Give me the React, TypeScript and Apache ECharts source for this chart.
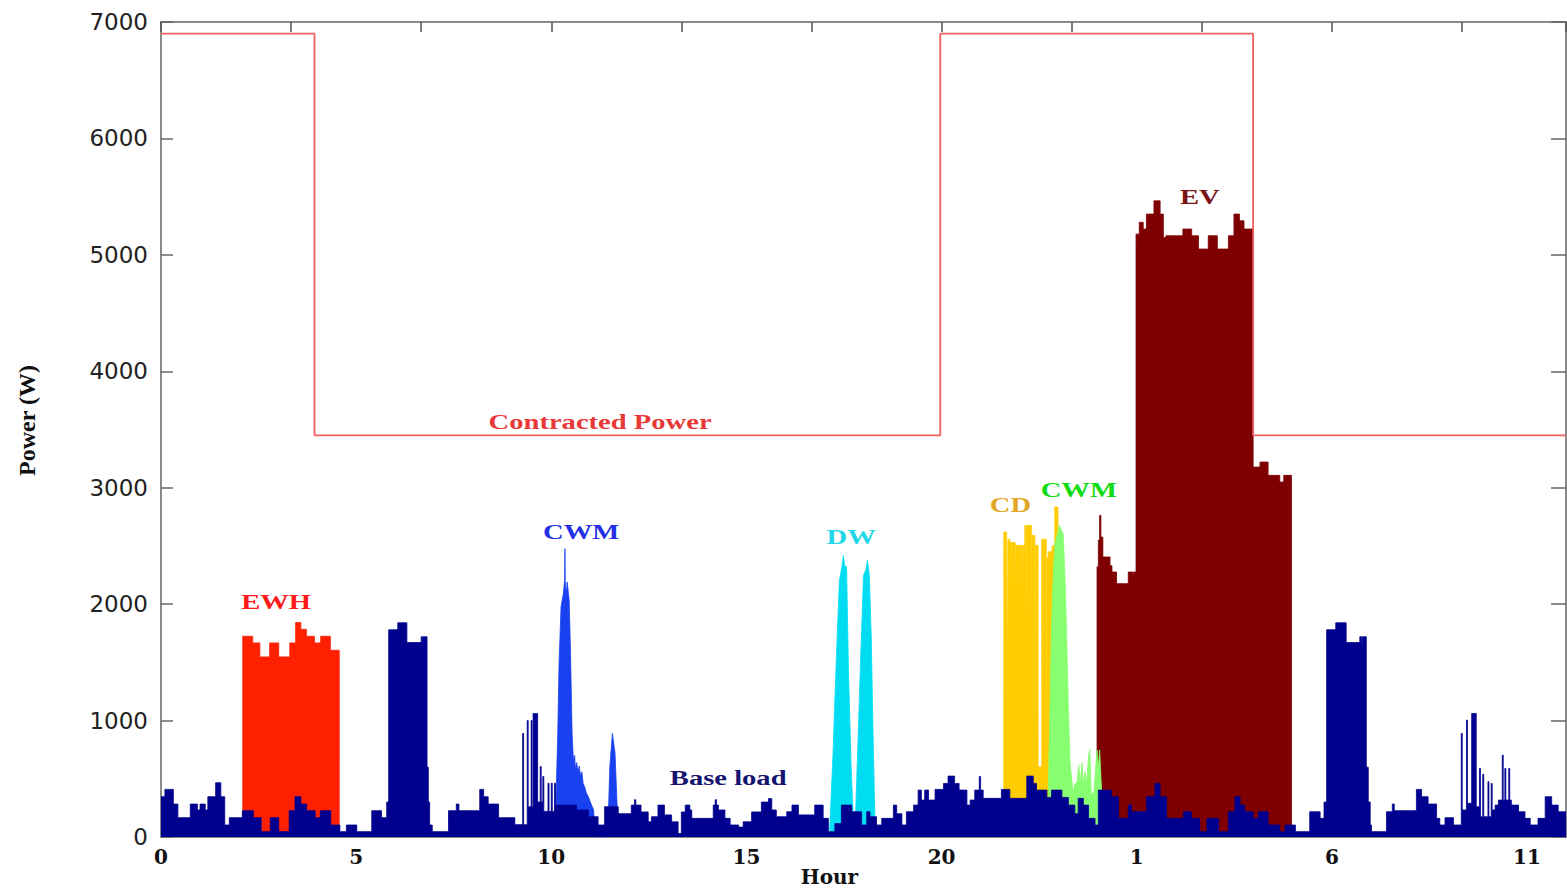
import React, { useEffect, useRef } from 'react';
import * as echarts from 'echarts';

// x values are minutes from midnight of day 1 (0 .. 2160 = 36 h), y values are watts
const hourTickMinutes = [0, 300, 600, 900, 1200, 1500, 1800, 2100];

const contractedPower: [number, number][] = [
  [0, 6900], [236, 3450], [1198, 6900], [1679, 3450], [2160, 3450],
];

const baseLoad: [number, number][] = [
  [0, 346], [6, 409], [19, 283], [26, 166], [45, 283], [56, 232], [60, 283], [68, 232], [72, 346],
  [84, 466], [92, 346], [98, 103], [105, 166], [125, 226], [142, 166], [154, 46], [168, 166],
  [181, 46], [197, 226], [206, 346], [215, 283], [224, 226], [237, 166], [245, 226], [261, 103],
  [275, 46], [285, 103], [301, 46], [324, 226], [339, 166], [347, 300],
  [350, 1780], [364, 1840], [378, 1670], [400, 1720], [402, 1600], [403, 1720], [409, 600],
  [411, 300], [413, 103], [417, 46], [442, 226], [454, 283], [458, 226], [490, 409], [496, 346],
  [503, 283], [519, 166], [544, 106], [556, 890], [557.5, 106], [563, 1000], [564.5, 260],
  [569, 1000], [570.5, 260], [572, 1060], [579, 300], [583, 605], [584.5, 300], [587, 520],
  [588.5, 220], [595, 462], [596.5, 220], [600, 462], [601.5, 220], [605, 462], [606.5, 260],
  [608, 274], [639, 232], [657, 174], [672, 103], [682, 260], [703, 200], [723, 274], [728, 320],
  [730, 274], [738, 215], [749, 130], [754, 174], [764, 274], [774, 190], [785, 130], [795, 30],
  [800, 215], [806, 274], [813, 232], [816, 160], [849, 274], [852, 320], [854, 274], [857, 232],
  [867, 160], [875, 103], [888, 85], [895, 130], [908, 215], [923, 300], [934, 330], [939, 232],
  [946, 174], [962, 217], [970, 274], [980, 190], [1005, 274], [1018, 160], [1026, 46], [1036, 115],
  [1046, 274], [1062, 217], [1077, 103], [1085, 217], [1090, 174], [1100, 103], [1108, 160],
  [1126, 274], [1131, 200], [1139, 103], [1146, 217], [1157, 274], [1164, 403], [1169, 317],
  [1174, 403], [1180, 317], [1190, 409], [1203, 460], [1210, 523], [1220, 460], [1227, 403],
  [1239, 274], [1244, 317], [1251, 403], [1258, 520], [1260, 403], [1264, 332], [1292, 409],
  [1305, 332], [1331, 523], [1341, 460], [1346, 403], [1362, 340], [1369, 403], [1385, 340],
  [1395, 274], [1405, 200], [1410, 332], [1418, 274], [1426, 160], [1436, 103], [1441, 403],
  [1461, 346], [1472, 160], [1487, 274], [1492, 217], [1515, 346], [1528, 460], [1536, 346],
  [1546, 160], [1572, 217], [1584, 160], [1597, 46], [1608, 160], [1626, 46], [1641, 217],
  [1651, 346], [1659, 274], [1666, 217], [1679, 160], [1687, 217], [1702, 103], [1720, 46],
  [1728, 103], [1744, 46], [1766, 217], [1782, 160], [1788, 300],
  [1792, 1780], [1806, 1840], [1822, 1670], [1843, 1720], [1846, 1600], [1847, 1720], [1853, 600],
  [1856, 300], [1859, 103], [1861, 46], [1884, 217], [1893, 283], [1896, 226], [1930, 409],
  [1938, 346], [1948, 283], [1961, 160], [1966, 103], [1974, 166], [1987, 103], [1999, 889],
  [2000.5, 232], [2007, 1004], [2008.5, 289], [2015, 1061], [2022, 260], [2027, 589], [2028.5, 174],
  [2032, 538], [2033.5, 174], [2040, 475], [2041.5, 174], [2045, 460], [2046.5, 232], [2051, 274],
  [2056, 317], [2062, 703], [2063.5, 317], [2066, 589], [2067.5, 317], [2072, 589], [2073.5, 317],
  [2076, 274], [2087, 217], [2097, 160], [2105, 103], [2117, 160], [2128, 346], [2138, 274],
  [2148, 217], [2160, 217],
];

const ewh: [number, number][] = [
  [125, 1724], [141, 1667], [152, 1547], [167, 1667], [181, 1547], [198, 1667], [207, 1842],
  [215, 1784], [223.5, 1724], [236, 1667], [245.5, 1724], [260.4, 1604], [274, 0],
];

const cwmDay: [number, number][] = [
  [607, 260], [610, 900], [612, 1500], [615, 1976], [618.5, 2090], [620.5, 2200], [621, 2476],
  [621.5, 2200], [623, 2090], [624.5, 2190], [627.5, 2033], [629.5, 1604], [632, 890], [634, 662],
  [636, 700], [637, 580], [639, 640], [641, 560], [643, 610], [645, 520], [647, 560], [649, 460],
  [652, 420], [654, 376], [657, 347], [660, 300], [665, 233], [668, 0], [686, 0],
  [688, 233], [690, 605], [694, 890], [698, 720], [701.5, 233], [703.5, 0],
];

const dw: [number, number][] = [
  [1028, 60], [1033, 700], [1038, 1500], [1043, 2205], [1047, 2330], [1049, 2419], [1051, 2330],
  [1054, 2319], [1057, 1400], [1061, 600], [1064, 202], [1066, 0], [1067, 60], [1072, 900],
  [1076, 1600], [1080, 2247], [1084, 2300], [1086, 2376], [1089, 2247], [1092, 1700], [1095, 800],
  [1097.5, 172], [1098, 0],
];

const cd: [number, number][] = [
  [1295, 2619], [1300, 2557], [1301, 1089], [1302, 2557], [1305, 2530], [1307.5, 1518],
  [1308.5, 2530], [1313, 1290], [1314, 2505], [1319.5, 1347], [1320.5, 2505], [1324.5, 1461],
  [1325.5, 2505], [1328, 2676], [1329.5, 1232], [1330.5, 2676], [1338, 1404], [1339, 2590],
  [1343.5, 660], [1344.5, 2505], [1348.5, 603], [1354, 2557], [1356, 1376], [1357, 2557],
  [1361, 717], [1362, 2400], [1364, 2450], [1370, 2500], [1374, 2834], [1379, 0],
];

const cwmNight: [number, number][] = [
  [1364, 375], [1366, 900], [1369, 1804], [1372, 2300], [1374.4, 2520], [1378, 2600], [1381, 2676],
  [1384, 2640], [1387, 2605], [1390, 2200], [1392, 1804], [1395, 1100], [1397.4, 662], [1400, 500],
  [1402.5, 375], [1405, 460], [1408, 460], [1411, 620], [1413, 460], [1416, 640], [1418, 460],
  [1421, 560], [1423, 460], [1426, 700], [1428, 748], [1430, 375], [1434, 375], [1437, 600],
  [1439, 748], [1441, 600], [1443, 748], [1446, 400], [1448.7, 0],
];

const ev: [number, number][] = [
  [1438.4, 2319], [1441, 2550], [1443, 2762], [1445, 2576], [1448, 2405], [1459, 2330],
  [1462, 2276], [1469, 2176], [1487, 2276], [1494, 2200], [1495, 2276], [1499, 5178], [1504, 5279],
  [1510, 5222], [1515, 5350], [1526.5, 5464], [1536, 5350], [1541, 5150], [1545, 5164],
  [1571, 5222], [1584.5, 5164], [1595, 5050], [1610, 5164], [1624, 5050], [1641, 5164],
  [1649.5, 5350], [1658, 5293], [1665, 5222], [1679, 3177], [1689.5, 3220], [1702, 3106],
  [1720, 3049], [1726, 3106], [1738, 0],
];

// annotation anchors in data coordinates [minute, watts]
const annotations = [
  { key: 'ewh', text: 'EWH', minute: 177, watts: 2024 },
  { key: 'cwmDay', text: 'CWM', minute: 646, watts: 2625 },
  { key: 'dw', text: 'DW', minute: 1061, watts: 2582 },
  { key: 'cd', text: 'CD', minute: 1306, watts: 2856 },
  { key: 'cwmNight', text: 'CWM', minute: 1411, watts: 2985 },
  { key: 'ev', text: 'EV', minute: 1597, watts: 5498 },
  { key: 'contracted', text: 'Contracted Power', minute: 675, watts: 3568 },
  { key: 'base', text: 'Base load', minute: 872, watts: 510 },
];

const annotationColors: Record<string, string> = {
  ewh: '#FF1A1A', cwmDay: '#2430E6', dw: '#22D8E8', cd: '#E0A826', cwmNight: '#12DD12',
  ev: '#7A1414', contracted: '#E83838', base: '#141470',
};

const areaSeries = (name: string, data: [number, number][], color: string, step: boolean, z: number) => ({
  type: 'line',
  name,
  data,
  step: step ? 'end' : false,
  symbol: 'none',
  showSymbol: false,
  silent: true,
  z,
  lineStyle: { width: 0.8, color },
  areaStyle: { color, opacity: 1 },
});

export default function App() {
  const ref = useRef<HTMLDivElement>(null);

  useEffect(() => {
    if (!ref.current) return;
    const chart = echarts.init(ref.current, null, { renderer: 'svg' });
    const axisGray = '#8a8a8a';
    const option: any = {
      animation: false,
      backgroundColor: '#ffffff',
      grid: { left: 161, right: 1, top: 22, bottom: 55, containLabel: false, outerBoundsMode: 'none' },
      xAxis: [
        {
          type: 'value', position: 'bottom', min: 0, max: 2160, interval: 300,
          axisLine: { show: true, onZero: false, lineStyle: { color: axisGray, width: 2 } },
          axisTick: { show: false },
          splitLine: { show: false },
          axisLabel: {
            margin: 10,
            customValues: hourTickMinutes,
            formatter: (v: number) => (v >= 2160 ? '' : String(Math.round(v / 60) % 24)),
            fontFamily: 'DejaVu Serif', fontWeight: 'bold', fontSize: 20, color: '#111',
          },
          name: 'Hour', nameLocation: 'middle', nameGap: 30, nameMoveOverlap: false,
          nameTextStyle: {
            fontFamily: 'DejaVu Serif', fontWeight: 'bold', fontSize: 20, color: '#111',
            padding: [0, 68, 0, 0],
          },
        },
        {
          type: 'value', position: 'top', min: 0, max: 2160, interval: 200,
          axisLine: { show: true, onZero: false, lineStyle: { color: axisGray, width: 2 } },
          axisTick: { show: true, inside: true, length: 10, lineStyle: { color: '#555', width: 1.5 } },
          axisLabel: { show: false },
          splitLine: { show: false },
        },
      ],
      yAxis: [
        {
          type: 'value', position: 'left', min: 0, max: 7000, interval: 1000,
          axisLine: { show: true, onZero: false, lineStyle: { color: axisGray, width: 2 } },
          axisTick: { show: true, inside: true, length: 12, lineStyle: { color: '#666', width: 1.5 } },
          splitLine: { show: false },
          axisLabel: {
            margin: 13, formatter: (v: number) => String(v),
            fontFamily: 'DejaVu Sans', fontSize: 23, color: '#222',
          },
          name: 'Power (W)', nameLocation: 'middle', nameGap: 122, nameMoveOverlap: false,
          nameTextStyle: {
            fontFamily: 'Liberation Serif', fontWeight: 'bold', fontSize: 24, color: '#111',
            padding: [0, 0, 0, 18],
          },
        },
        {
          type: 'value', position: 'right', min: 0, max: 7000, interval: 1000,
          axisLine: { show: true, onZero: false, lineStyle: { color: axisGray, width: 2 } },
          axisTick: { show: true, inside: true, length: 15, lineStyle: { color: '#666', width: 1.5 } },
          axisLabel: { show: false },
          splitLine: { show: false },
        },
      ],
      series: [
        areaSeries('EV', ev, '#7F0000', true, 2),
        areaSeries('CD', cd, '#FFCC00', true, 3),
        areaSeries('CWM night', cwmNight, '#88FF70', false, 4),
        areaSeries('DW', dw, '#00DDF2', false, 5),
        areaSeries('CWM day', cwmDay, '#1941F0', false, 6),
        areaSeries('EWH', ewh, '#FF2000', true, 7),
        areaSeries('Base load', baseLoad, '#00008F', true, 8),
        {
          type: 'line', name: 'Contracted Power', data: contractedPower, step: 'end',
          symbol: 'none', showSymbol: false, silent: true, z: 10,
          lineStyle: { width: 1.8, color: '#F06060' },
        },
      ],
    };
    chart.setOption(option);

    const graphics = annotations.map((a) => {
      const p = chart.convertToPixel({ xAxisIndex: 0, yAxisIndex: 0 }, [a.minute, a.watts]) as number[];
      return {
        type: 'text',
        x: p[0],
        y: p[1],
        scaleX: 1.3,
        z: 100,
        silent: true,
        style: {
          text: a.text,
          fill: annotationColors[a.key],
          font: 'bold 22px "Liberation Serif", "Times New Roman", serif',
          textAlign: 'center',
          textVerticalAlign: 'middle',
          align: 'center',
          verticalAlign: 'middle',
        },
      };
    });
    chart.setOption({ graphic: graphics });

    return () => chart.dispose();
  }, []);

  return (
    <div
      ref={ref}
      style={{ position: 'absolute', left: 0, top: 0, width: 1567, height: 892, background: '#fff' }}
    />
  );
}
